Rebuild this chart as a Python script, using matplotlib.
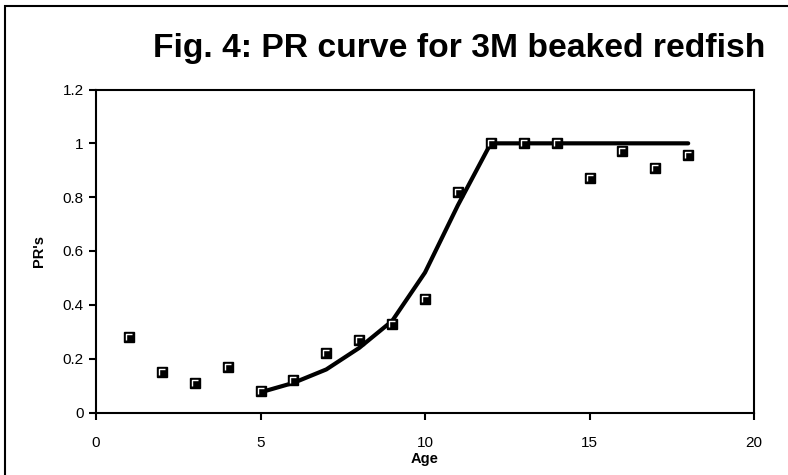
import matplotlib
matplotlib.use('Agg')
import matplotlib.pyplot as plt
from matplotlib.path import Path
from matplotlib.patches import Rectangle

plt.rcParams['font.family'] = ['Liberation Sans', 'DejaVu Sans']

# observed PR's
ages = [1, 2, 3, 4, 5, 6, 7, 8, 9, 10, 11, 12, 13, 14, 15, 16, 17, 18]
prs = [0.28, 0.15, 0.11, 0.17, 0.08, 0.12, 0.22, 0.27, 0.33, 0.42,
       0.82, 1.0, 1.0, 1.0, 0.87, 0.97, 0.91, 0.955]

# fitted curve
fit_ages = [5, 6, 7, 8, 9, 10, 11, 12, 13, 14, 15, 16, 17, 18]
fit_prs = [0.075, 0.11, 0.16, 0.24, 0.34, 0.52, 0.77, 1.0, 1.0, 1.0,
           1.0, 1.0, 1.0, 1.0]

fig = plt.figure(figsize=(7.88, 4.75), dpi=100)
ax = fig.add_axes([96/788, 1-412.5/475, (754-96)/788, (412.5-89.5)/475])

ax.plot(fit_ages, fit_prs, color='black', lw=3, solid_capstyle='round', zorder=2)

# excel style marker: black square with a white corner inside
corner = Path([(-0.5, -0.5), (-0.5, 0.5), (0.5, 0.5)])
ax.plot(ages, prs, ls='none', marker='s', ms=7.5, mfc='black', mec='black', zorder=3)
ax.plot(ages, prs, ls='none', marker=corner, ms=4.2, mfc='none', mec='white',
        mew=1.0, zorder=4)

ax.set_xlim(0, 20)
ax.set_ylim(0, 1.2)
ax.set_xticks([0, 5, 10, 15, 20])
ax.set_yticks([0, 0.2, 0.4, 0.6, 0.8, 1, 1.2])
ax.set_yticklabels(['0', '0.2', '0.4', '0.6', '0.8', '1', '1.2'])
for s in ax.spines.values():
    s.set_linewidth(1.5)
ax.tick_params(direction='out', length=5, width=1.5, labelsize=11, pad=12)
ax.tick_params(axis='y', pad=4)

ax.set_xlabel('Age', fontsize=10.5, fontweight='bold', labelpad=1)
ax.set_ylabel("PR's", fontsize=10.5, fontweight='bold', labelpad=12)

fig.text(765/788, 1-57/475, 'Fig. 4: PR curve for 3M beaked redfish',
         ha='right', va='baseline', fontsize=24.2, fontweight='bold')

# outer frame (only top/left visible)
fig.patches.append(Rectangle((5/788, -0.1), 1.2, 1-6/475+0.1, transform=fig.transFigure,
                             fill=False, lw=1.5, ec='black'))

fig.savefig('out.png', dpi=100)
